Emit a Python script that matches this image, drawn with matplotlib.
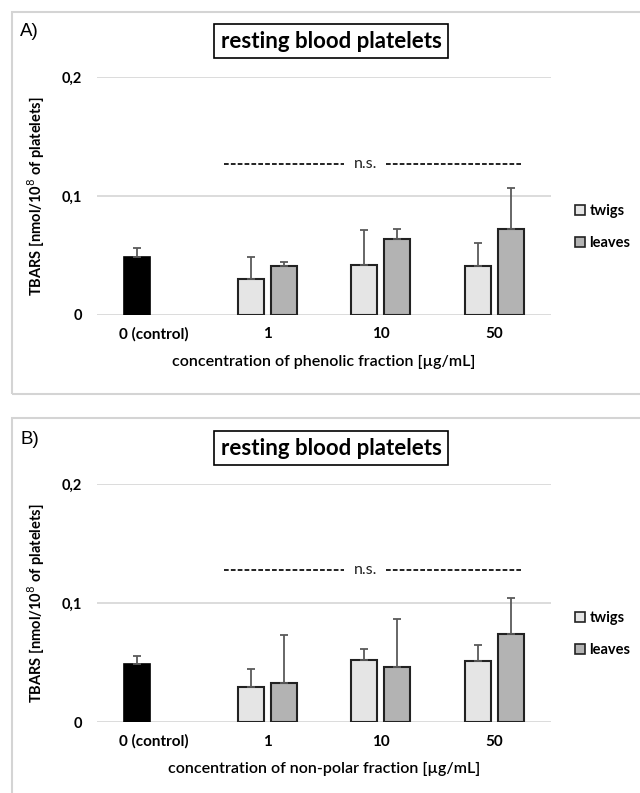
import numpy as np
import matplotlib
matplotlib.use("Agg")
import matplotlib.pyplot as plt
from matplotlib.patches import Rectangle, Patch

plt.rcParams['font.family'] = ['Lato', 'DejaVu Sans']

# data
categories = ['0 (control)', '1', '10', '50']
control_a, control_a_sd = 0.049, 0.007
twigs_a = [0.0306, 0.0416, 0.0408]
twigs_a_sd = [0.018, 0.030, 0.020]
leaves_a = [0.0408, 0.0635, 0.0725]
leaves_a_sd = [0.0037, 0.009, 0.0345]

control_b, control_b_sd = 0.049, 0.0068
twigs_b = [0.0296, 0.0518, 0.0513]
twigs_b_sd = [0.0146, 0.0093, 0.0135]
leaves_b = [0.033, 0.0462, 0.0741]
leaves_b_sd = [0.0397, 0.040, 0.0304]

xlabels = ['concentration of phenolic fraction [µg/mL]',
           'concentration of non-polar fraction [µg/mL]']
panel_tags = ['A)', 'B)']

W, H = 640, 793
fig = plt.figure(figsize=(W / 100, H / 100), dpi=100)


def fx(px):
    return px / W


def fy(py):
    return 1 - py / H


# light grey panel frames
for top, bot in [(12, 394), (418, 800)]:
    fig.patches.append(Rectangle((fx(12), fy(bot)), fx(700), (bot - top) / H,
                                 transform=fig.transFigure, fill=False,
                                 edgecolor='#d4d4d4', lw=1.5))

panels = [
    (77, 315, control_a, control_a_sd, twigs_a, twigs_a_sd, leaves_a, leaves_a_sd, 32, 41),
    (484, 722, control_b, control_b_sd, twigs_b, twigs_b_sd, leaves_b, leaves_b_sd, 440, 448),
]

w = 0.23
off = 0.145
x = np.arange(len(categories))
err_kw = dict(ecolor='#5a5a5a', elinewidth=1.3, capsize=3, capthick=1.3)

for i, (ytop, ybot, c, csd, tw, twsd, lv, lvsd, tagy, titley) in enumerate(panels):
    ax = fig.add_axes([fx(97), fy(ybot), fx(454), (ybot - ytop) / H])
    ax.set_xlim(-0.5, 3.5)
    ax.set_ylim(0, 0.2)
    for s in ax.spines.values():
        s.set_visible(False)
    ax.set_yticks([0, 0.1, 0.2])
    ax.set_yticklabels(['0', '0,1', '0,2'], fontweight='bold', fontsize=10.5)
    ax.yaxis.grid(True, color='#d9d9d9', lw=1.3)
    ax.set_axisbelow(True)
    ax.tick_params(length=0, axis='y', pad=11)
    ax.tick_params(length=0, axis='x', pad=9)
    ax.set_xticks(x)
    ax.set_xticklabels(categories, fontweight='bold', fontsize=11)

    ax.bar(x[0] - off, c, w, color='black', edgecolor='black', lw=1.2,
           yerr=[[0], [csd]], error_kw=err_kw, zorder=3)
    ax.bar(x[1:] - off, tw, w, color='#e5e5e5', edgecolor='#222222', lw=1.5,
           yerr=[np.zeros(3), twsd], error_kw=err_kw, zorder=3)
    ax.bar(x[1:] + off, lv, w, color='#b3b3b3', edgecolor='#222222', lw=1.5,
           yerr=[np.zeros(3), lvsd], error_kw=err_kw, zorder=3)

    # n.s. bracket
    ny = 0.127 if i == 0 else 0.128
    ax.plot([0.62, 1.68], [ny, ny], color='#111111', lw=1.3, ls=(0, (2.6, 1.2)))
    ax.plot([2.05, 3.24], [ny, ny], color='#111111', lw=1.3, ls=(0, (2.6, 1.2)))
    ax.text(1.865, ny, 'n.s.', ha='center', va='center', fontsize=11.5, color='#222222')

    ax.set_ylabel('TBARS [nmol/10$^8$ of platelets]', fontweight='bold', fontsize=10.5)
    ax.yaxis.set_label_coords(-0.11, 0.5)
    ax.set_xlabel(xlabels[i], fontsize=11.5, fontweight='semibold', labelpad=9)

    handles = [Patch(facecolor='#e5e5e5', edgecolor='#222222', lw=1.2, label='twigs'),
               Patch(facecolor='#b3b3b3', edgecolor='#222222', lw=1.2, label='leaves')]
    ax.legend(handles=handles, loc='center left', bbox_to_anchor=(1.025, 0.37),
              frameon=False, handlelength=0.65, handleheight=0.65, handletextpad=0.3,
              labelspacing=1.25, prop={'weight': 'bold', 'size': 10.5})

    fig.text(fx(20), fy(tagy), panel_tags[i], fontsize=13.5, va='center', ha='left',
             family='Liberation Sans')
    fig.text(fx(331), fy(titley), 'resting blood platelets', fontsize=16, fontweight='bold',
             ha='center', va='center',
             bbox=dict(boxstyle='square,pad=0.3', facecolor='white', edgecolor='black', lw=1.2))

fig.savefig('out.png', dpi=100)
